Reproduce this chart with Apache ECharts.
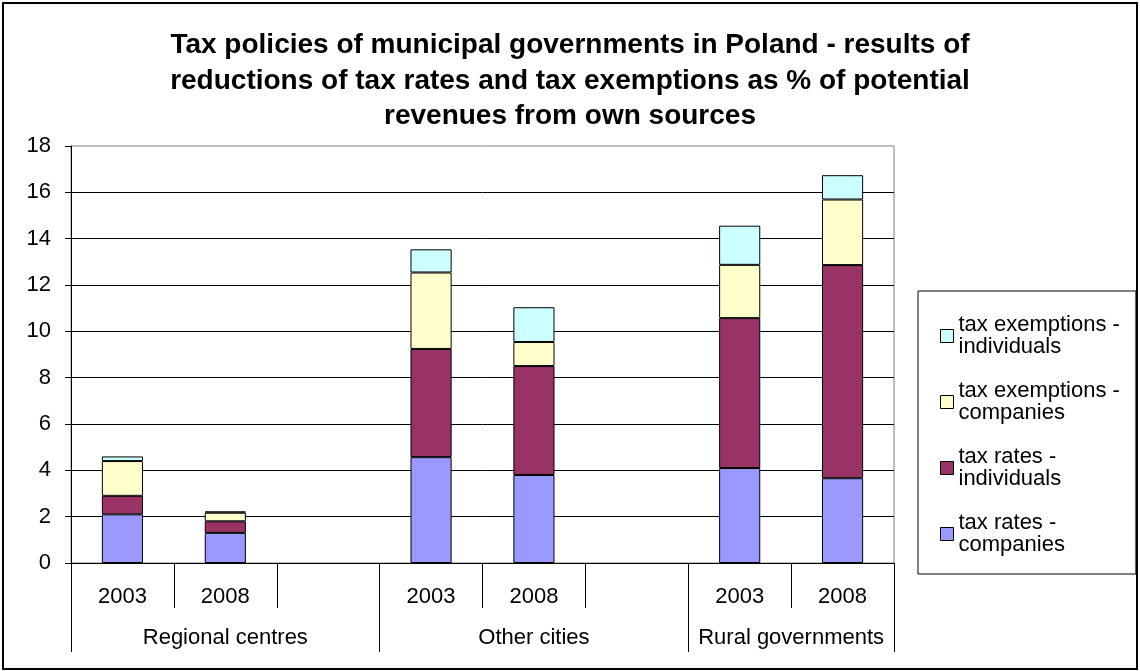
<!DOCTYPE html>
<html>
<head>
<meta charset="utf-8">
<script src="https://cdn.jsdelivr.net/npm/echarts@6/dist/echarts.min.js"></script>
<style>
html,body{margin:0;padding:0;background:#fff;}
#chart{width:1140px;height:671px;}
</style>
</head>
<body>
<div id="chart"></div>
<script>
// ---- data ----
var categories = ['2003', '2008', '', '2003', '2008', '', '2003', '2008'];
var groups = ['Regional centres', 'Other cities', 'Rural governments'];
var groupSpans = [3, 3, 2];
var taxRatesCompanies     = [2.1, 1.3, null, 4.57, 3.8, null, 4.1, 3.66];
var taxRatesIndividuals   = [0.8, 0.5, null, 4.67, 4.7, null, 6.47, 9.2];
var taxExemptCompanies    = [1.5, 0.37, null, 3.3, 1.04, null, 2.3, 2.83];
var taxExemptIndividuals  = [0.2, 0.06, null, 1.0, 1.5, null, 1.69, 1.05];
var yTicks = {min: 0, max: 18, interval: 2};

// ---- build ----
var groupLabelPos = [], groupTickPos = [0], acc = 0;
groups.forEach(function (g, i) {
  groupLabelPos.push(acc + groupSpans[i] / 2);
  acc += groupSpans[i];
  groupTickPos.push(acc);
});

var FONT = 'Liberation Sans, Arial, sans-serif';
var FS = 22;
function bar(name, data, color) {
  return {
    name: name, type: 'bar', stack: 'total', data: data, barWidth: '40%',
    itemStyle: {color: color, borderColor: '#000', borderWidth: 1},
    emphasis: {disabled: true}
  };
}

var chart = echarts.init(document.getElementById('chart'), null, {renderer: 'canvas'});
chart.setOption({
  animation: false,
  backgroundColor: '#fff',
  textStyle: {fontFamily: FONT},
  title: {
    text: 'Tax policies of municipal governments in Poland - results of\nreductions of tax rates and tax exemptions as % of potential\nrevenues from own sources',
    left: 'center', top: 28, padding: 0,
    textStyle: {fontFamily: FONT, fontSize: 28, fontWeight: 'bold', color: '#000', lineHeight: 35.5}
  },
  grid: {left: 71, right: 246, top: 146, bottom: 108, show: true, borderColor: '#808080', borderWidth: 1, backgroundColor: 'transparent'},
  legend: {
    orient: 'vertical', left: 918, top: 291,
    data: ['tax exemptions -\nindividuals', 'tax exemptions -\ncompanies', 'tax rates -\nindividuals', 'tax rates -\ncompanies'],
    itemWidth: 13, itemHeight: 13, itemGap: 0,
    icon: 'rect',
    itemStyle: {borderColor: '#000', borderWidth: 1},
    borderColor: '#000', borderWidth: 1, backgroundColor: '#fff',
    padding: [12, 16, 7, 22],
    textStyle: {fontFamily: FONT, fontSize: FS, color: '#000', lineHeight: 22, padding: [22, 0, 0, 0]},
    selectedMode: false
  },
  xAxis: [{
    type: 'category', data: categories, position: 'bottom',
    axisLine: {lineStyle: {color: '#000', width: 1}},
    axisTick: {show: true, interval: 0, length: 45, lineStyle: {color: '#000'}},
    axisLabel: {interval: 0, color: '#000', fontSize: FS, fontFamily: FONT, margin: 23},
    splitLine: {show: false}
  }, {
    type: 'value', min: 0, max: categories.length, position: 'bottom',
    axisLine: {show: false},
    axisTick: {show: true, customValues: groupTickPos, length: 89, lineStyle: {color: '#000'}},
    axisLabel: {show: true, customValues: groupLabelPos, color: '#000', fontSize: FS, fontFamily: FONT, margin: 64,
      formatter: function (v) {
        var i = groupLabelPos.indexOf(v);
        return i >= 0 ? groups[i] : '';
      }},
    splitLine: {show: false}
  }],
  yAxis: {
    type: 'value', min: yTicks.min, max: yTicks.max, interval: yTicks.interval,
    axisLine: {show: true, lineStyle: {color: '#000'}},
    axisTick: {show: true, length: 6, lineStyle: {color: '#000'}},
    axisLabel: {color: '#000', fontSize: FS, fontFamily: FONT, margin: 20},
    splitLine: {show: true, showMaxLine: false, showMinLine: false, lineStyle: {color: '#000', width: 1}}
  },
  series: [
    bar('tax rates -\ncompanies', taxRatesCompanies, '#9999FF'),
    bar('tax rates -\nindividuals', taxRatesIndividuals, '#993366'),
    bar('tax exemptions -\ncompanies', taxExemptCompanies, '#FFFFCC'),
    bar('tax exemptions -\nindividuals', taxExemptIndividuals, '#CCFFFF')
  ],
  graphic: [{
    type: 'rect', silent: true, z: 100,
    shape: {x: 3, y: 3, width: 1134, height: 666},
    style: {fill: 'none', stroke: '#000', lineWidth: 2}
  }]
});
</script>
</body>
</html>
